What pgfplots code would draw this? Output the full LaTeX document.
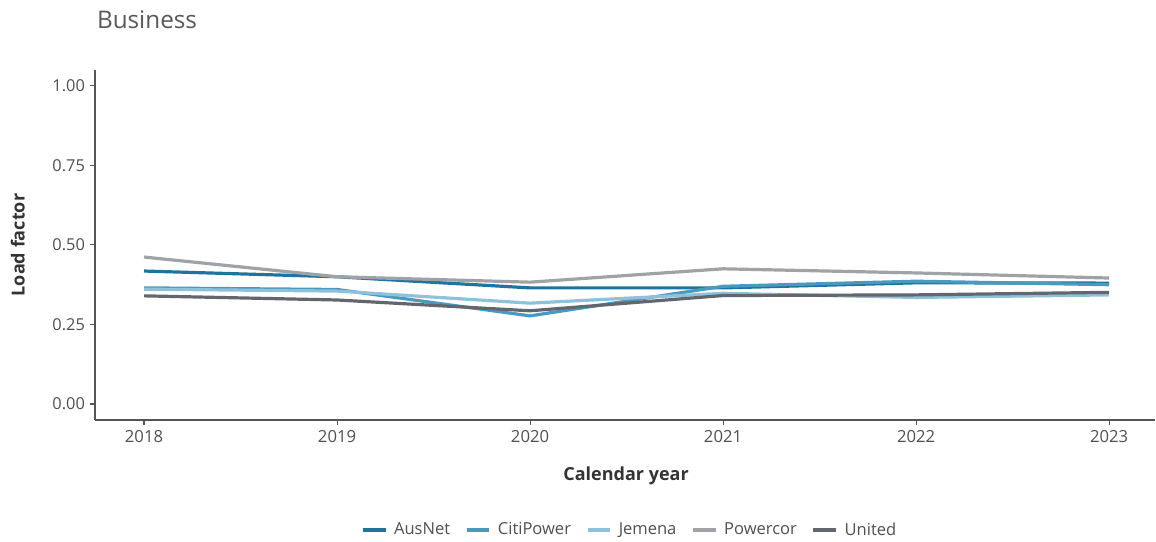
\documentclass[border=0pt]{standalone}
\usepackage{pgfplots}
\pgfplotsset{compat=1.18}
\usepackage{fontspec}
\setmainfont{Open Sans}
\definecolor{ausnet}{HTML}{1F739C}
\definecolor{citi}{HTML}{4A9AC0}
\definecolor{jemena}{HTML}{8EC1DA}
\definecolor{powercor}{HTML}{9FA2A7}
\definecolor{united}{HTML}{62676E}
\definecolor{axisgray}{HTML}{555555}
\definecolor{txtgray}{HTML}{505050}
\begin{document}
\begin{tikzpicture}
\useasboundingbox (-71.25pt,-91.5pt) rectangle (795.75pt,315pt);
\begin{axis}[
  at={(0pt,0pt)}, anchor=south west,
  scale only axis, width=795pt, height=262.5pt,
  xmin=2017.746, xmax=2023.238, ymin=-0.0503, ymax=1.050,
  axis lines=left, axis line style={axisgray, line width=0.9pt, -},
  xtick={2018,2019,2020,2021,2022,2023},
  ytick={0,0.25,0.5,0.75,1},
  x tick label style={/pgf/number format/1000 sep={}, font=\fontsize{12.5}{14}\selectfont, text=txtgray},
  y tick label style={/pgf/number format/.cd, fixed, fixed zerofill, precision=2, /tikz/.cd, font=\fontsize{12.3}{14}\selectfont, text=txtgray},
  /pgf/number format/assume math mode=true,
  tick style={axisgray, line width=0.8pt},
  tick align=outside, major tick length=4pt,
  xlabel={\bfseries Calendar year}, ylabel={\bfseries Load factor},
  xlabel style={font=\fontsize{13.5}{15}\selectfont, text=black!80, at={(axis description cs:0.501,-0.16)}, anchor=center},
  ylabel style={font=\fontsize{13.5}{15}\selectfont, text=black!80, at={(axis description cs:-0.0727,0.5)}, anchor=center, rotate=0},
  legend style={at={(0.5047,-0.314)}, anchor=center, draw=none, font=\fontsize{12.4}{14}\selectfont, text=txtgray, /tikz/every even column/.append style={column sep=9pt}, /tikz/every odd column/.append style={column sep=3pt}},
  legend columns=5,
  legend image code/.code={\draw[#1, line width=2.8pt] (0pt,0pt) -- (17pt,0pt);},
  every axis plot/.append style={line width=2.4pt},
  clip=false,
]
\addplot[ausnet] coordinates {(2018,0.418) (2019,0.400) (2020,0.365) (2021,0.365) (2022,0.381) (2023,0.380)};
\addlegendentry{AusNet}
\addplot[citi] coordinates {(2018,0.365) (2019,0.360) (2020,0.277) (2021,0.370) (2022,0.386) (2023,0.375)};
\addlegendentry{CitiPower}
\addplot[jemena] coordinates {(2018,0.361) (2019,0.355) (2020,0.317) (2021,0.348) (2022,0.335) (2023,0.343)};
\addlegendentry{Jemena}
\addplot[powercor] coordinates {(2018,0.462) (2019,0.400) (2020,0.383) (2021,0.425) (2022,0.412) (2023,0.396)};
\addlegendentry{Powercor}
\addplot[united] coordinates {(2018,0.340) (2019,0.327) (2020,0.293) (2021,0.341) (2022,0.343) (2023,0.351)};
\addlegendentry{United}
\end{axis}
\node[anchor=west, font=\fontsize{18.2}{20}\selectfont, text=black!65] at (-2pt,300pt) {Business};
\end{tikzpicture}
\end{document}
